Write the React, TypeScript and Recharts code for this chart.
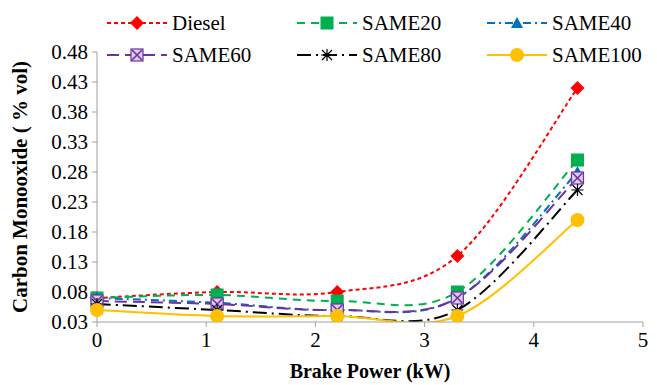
import React from 'react'
import { LineChart, Line, XAxis, YAxis } from 'recharts'

const brakePower = [0, 1.1, 2.2, 3.3, 4.4]
const diesel = [0.07, 0.08, 0.08, 0.14, 0.42]
const same20 = [0.07, 0.075, 0.065, 0.08, 0.30]
const same40 = [0.07, 0.062, 0.05, 0.07, 0.28]
const same60 = [0.065, 0.06, 0.05, 0.07, 0.27]
const same80 = [0.06, 0.05, 0.04, 0.05, 0.25]
const same100 = [0.05, 0.04, 0.04, 0.04, 0.20]

const xTicks = [0, 1, 2, 3, 4, 5]
const yTicks = [0.03, 0.08, 0.13, 0.18, 0.23, 0.28, 0.33, 0.38, 0.43, 0.48]

const FONT = '"Liberation Serif", "Times New Roman", Times, "Liberation Sans", sans-serif'
const AXIS_GREY = '#a0a0a0'

// Excel-like smoothing: bezier with control points at 1/6 of the neighbour chord
function excelCurve(context: any) {
  let pts: number[][] = []
  return {
    areaStart() {},
    areaEnd() {},
    lineStart() { pts = [] },
    point(x: number, y: number) { pts.push([+x, +y]) },
    lineEnd() {
      const n = pts.length
      if (!n) return
      context.moveTo(pts[0][0], pts[0][1])
      for (let i = 0; i < n - 1; i++) {
        const p0 = pts[i - 1] || pts[i]
        const p1 = pts[i]
        const p2 = pts[i + 1]
        const p3 = pts[i + 2] || p2
        context.bezierCurveTo(
          p1[0] + (p2[0] - p0[0]) / 6, p1[1] + (p2[1] - p0[1]) / 6,
          p2[0] - (p3[0] - p1[0]) / 6, p2[1] - (p3[1] - p1[1]) / 6,
          p2[0], p2[1],
        )
      }
    },
  }
}

type MarkerKind = 'diamond' | 'square' | 'triangle' | 'xbox' | 'star' | 'circle'

function Marker({ kind, cx, cy, color }: { kind: MarkerKind; cx: number; cy: number; color: string }) {
  if (cx == null || cy == null) return null
  switch (kind) {
    case 'diamond':
      return <polygon points={`${cx},${cy - 7} ${cx + 7},${cy} ${cx},${cy + 7} ${cx - 7},${cy}`} fill={color} />
    case 'square':
      return <rect x={cx - 6.5} y={cy - 6.5} width={13} height={13} fill={color} />
    case 'triangle':
      return <polygon points={`${cx},${cy - 6} ${cx + 6},${cy + 5} ${cx - 6},${cy + 5}`} fill={color} />
    case 'xbox':
      return (
        <g>
          <rect x={cx - 6} y={cy - 6} width={12} height={12} fill="#dccdee" stroke={color} strokeWidth={1.2} />
          <path d={`M${cx - 5},${cy - 5}L${cx + 5},${cy + 5}M${cx + 5},${cy - 5}L${cx - 5},${cy + 5}`} stroke={color} strokeWidth={1.6} />
        </g>
      )
    case 'star':
      return (
        <path
          d={`M${cx - 6},${cy}L${cx + 6},${cy}M${cx},${cy - 6}L${cx},${cy + 6}M${cx - 5},${cy - 5}L${cx + 5},${cy + 5}M${cx + 5},${cy - 5}L${cx - 5},${cy + 5}`}
          stroke={color} strokeWidth={1.2}
        />
      )
    default:
      return <circle cx={cx} cy={cy} r={7} fill={color} />
  }
}

const SERIES: { key: string; name: string; color: string; dash?: string; marker: MarkerKind }[] = [
  { key: 'diesel', name: 'Diesel', color: '#ff0000', dash: '4 3', marker: 'diamond' },
  { key: 'same20', name: 'SAME20', color: '#00b050', dash: '8 6', marker: 'square' },
  { key: 'same40', name: 'SAME40', color: '#0070c0', dash: '8 4 2 4', marker: 'triangle' },
  { key: 'same60', name: 'SAME60', color: '#7030a0', dash: '12 6', marker: 'xbox' },
  { key: 'same80', name: 'SAME80', color: '#000000', dash: '14 5 2 5', marker: 'star' },
  { key: 'same100', name: 'SAME100', color: '#ffc000', marker: 'circle' },
]

const data = brakePower.map((x, i) => ({
  x,
  diesel: diesel[i],
  same20: same20[i],
  same40: same40[i],
  same60: same60[i],
  same80: same80[i],
  same100: same100[i],
}))

const LEGEND_POS = [
  { left: 107, top: 11 },
  { left: 297, top: 11 },
  { left: 487, top: 11 },
  { left: 107, top: 43 },
  { left: 297, top: 43 },
  { left: 487, top: 43 },
]

function LegendItem({ s, left, top }: { s: typeof SERIES[number]; left: number; top: number }) {
  return (
    <div style={{ position: 'absolute', left, top, display: 'flex', alignItems: 'center', height: 24 }}>
      <svg width={60} height={20} style={{ display: 'block' }}>
        <line x1={0} y1={10} x2={60} y2={10} stroke={s.color} strokeWidth={2} strokeDasharray={s.dash} />
        <Marker kind={s.marker} cx={30} cy={10} color={s.color} />
      </svg>
      <span style={{ fontFamily: FONT, fontSize: 21, lineHeight: '24px', color: '#000', marginLeft: 5, whiteSpace: 'nowrap' }}>{s.name}</span>
    </div>
  )
}

function YTitle({ viewBox }: any) {
  const cx = 20
  const cy = viewBox.y + viewBox.height / 2
  return (
    <text
      x={cx} y={cy}
      transform={`rotate(-90, ${cx}, ${cy})`}
      textAnchor="middle" dominantBaseline="central"
      fill="#000" fontFamily={FONT} fontSize={21} fontWeight="bold"
    >
      Carbon Monooxide ( % vol)
    </text>
  )
}

export default function App() {
  return (
    <div style={{ position: 'relative', width: 657, height: 385, background: '#fff' }}>
      <style>{'body{margin:0}'}</style>
      <LineChart
        width={657}
        height={385}
        data={data}
        margin={{ top: 52, right: 14, left: 37, bottom: 4 }}
      >
        <XAxis
          dataKey="x"
          type="number"
          domain={[0, 5]}
          ticks={xTicks}
          interval={0}
          height={59}
          stroke={AXIS_GREY}
          tickSize={5}
          tickMargin={5}
          tick={{ fill: '#000', fontFamily: FONT, fontSize: 21 }}
          label={{ value: 'Brake Power (kW)', position: 'insideBottom', offset: 3, fill: '#000', fontFamily: FONT, fontSize: 20, fontWeight: 'bold' }}
        />
        <YAxis
          type="number"
          domain={[0.03, 0.48]}
          ticks={yTicks}
          interval={0}
          allowDataOverflow
          width={60}
          stroke={AXIS_GREY}
          tickSize={5}
          tickMargin={4}
          tickFormatter={(v: number) => v.toFixed(2)}
          tick={{ fill: '#000', fontFamily: FONT, fontSize: 21 }}
          label={<YTitle />}
        />
        {SERIES.map(s => (
          <Line
            key={s.key}
            dataKey={s.key}
            name={s.name}
            type={excelCurve as any}
            stroke={s.color}
            strokeWidth={2}
            strokeDasharray={s.dash}
            dot={(p: any) => <Marker key={`${s.key}-${p.index}`} kind={s.marker} cx={p.cx} cy={p.cy} color={s.color} />}
            activeDot={false}
            isAnimationActive={false}
          />
        ))}
      </LineChart>
      {SERIES.map((s, i) => (
        <LegendItem key={s.key} s={s} left={LEGEND_POS[i].left} top={LEGEND_POS[i].top} />
      ))}
    </div>
  )
}
